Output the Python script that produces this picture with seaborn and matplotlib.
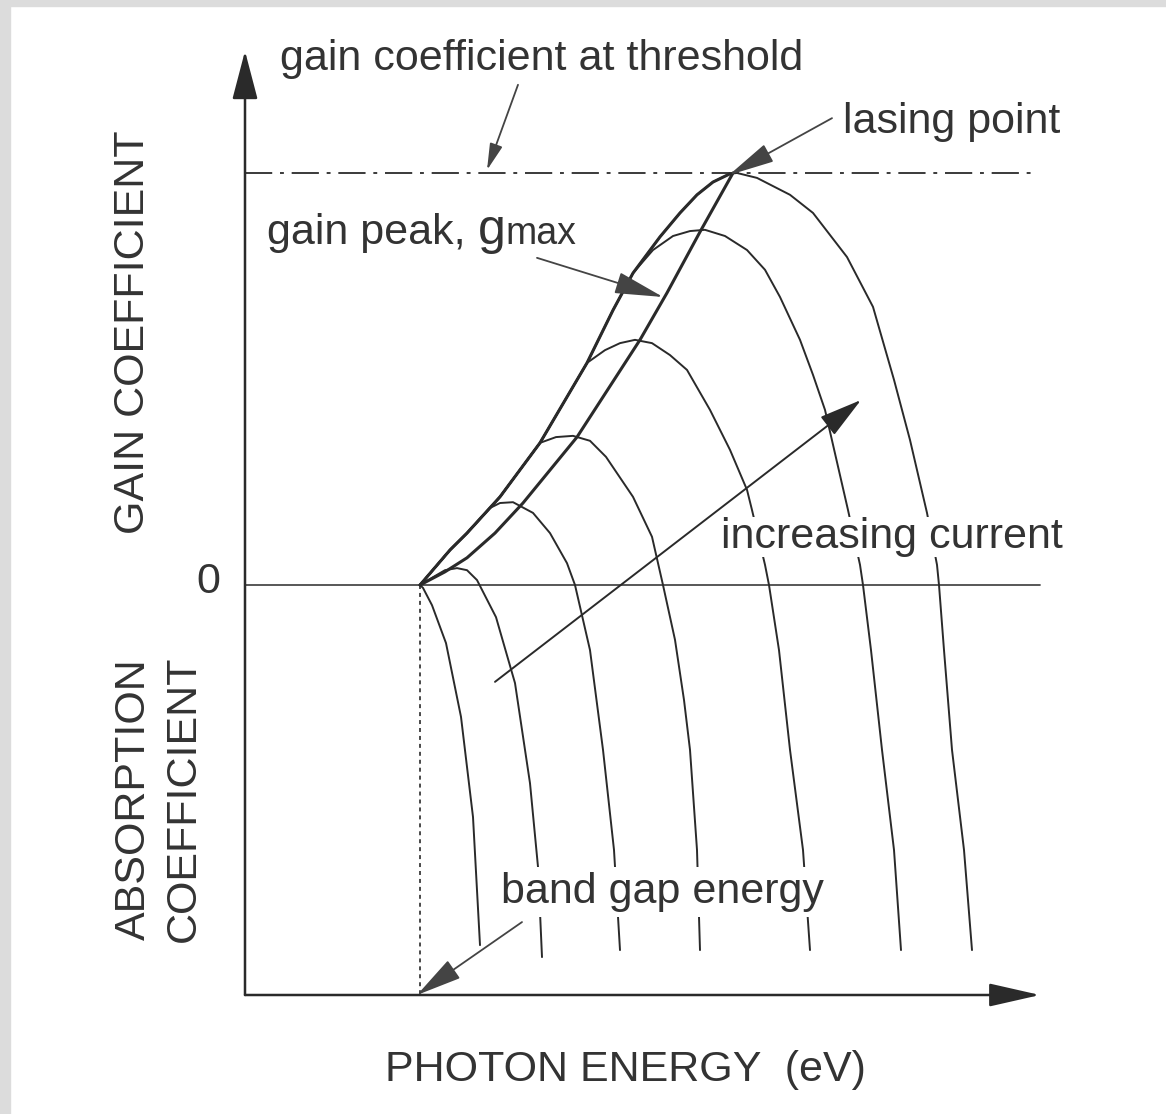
import matplotlib
matplotlib.use("Agg")
import matplotlib.pyplot as plt
import seaborn as sns
import pandas as pd

sns.set_theme(style="white")
plt.rcParams["font.family"] = ["Liberation Sans", "DejaVu Sans"]

INK = "#2a2a2a"
TXT = "#333333"
FS = 31

# photon energy (a.u.) and gain (a.u., threshold = 100)
E_GAP = 1.75
G_TH = 100.0

# rising (low-energy) edge shared by the gain spectra
edge_E = [1.75, 2.05, 2.22, 2.55, 2.95, 3.42, 3.68, 3.88, 4.15, 4.35, 4.52, 4.68, 4.85]
edge_g = [0.0, 8.5, 12.6, 21.4, 34.5, 53.9, 66.7, 75.7, 84.5, 90.3, 94.7, 97.8, 99.8]

# locus of the gain peaks
peak_E = [1.75, 2.00, 2.22, 2.50, 2.78, 3.32, 3.95, 4.22, 4.55, 4.88]
peak_g = [0.0, 3.2, 6.6, 12.6, 19.9, 35.9, 59.5, 70.9, 85.7, 100.0]

# spectra for increasing injection current: (branch energy on the edge, own points)
c1_E = [1.75, 1.78, 1.87, 2.01, 2.16, 2.28, 2.35]
c1_g = [0.0, -0.7, -4.9, -14.1, -32.0, -56.3, -87.4]

c2_E = [1.75, 1.88, 2.00, 2.12, 2.22, 2.32, 2.51, 2.70, 2.85, 2.93, 2.97]
c2_g = [0.0, 1.9, 3.6, 4.1, 3.6, 1.2, -7.8, -23.8, -48.1, -68.4, -90.3]

c3_branch = 2.22
c3_E = [2.45, 2.55, 2.68, 2.88, 3.05, 3.22, 3.30, 3.45, 3.58, 3.69, 3.75]
c3_g = [18.7, 19.9, 20.1, 17.5, 12.6, 5.3, 0.0, -15.8, -40.0, -64.3, -88.6]

c4_branch = 2.95
c4_E = [3.11, 3.28, 3.45, 3.61, 3.88, 4.07, 4.18, 4.30, 4.39, 4.45, 4.52, 4.55]
c4_g = [35.9, 36.2, 35.0, 31.1, 21.4, 11.7, 0.0, -13.3, -27.9, -40.0, -64.3, -88.6]

c5_branch = 3.42
c5_E = [3.60, 3.75, 3.90, 4.07, 4.25, 4.42, 4.65, 4.85, 5.02, 5.07, 5.20, 5.24,
        5.34, 5.45, 5.58, 5.65]
c5_g = [57.0, 58.7, 59.5, 58.7, 55.8, 52.2, 42.5, 32.8, 23.1, 18.2, 4.9, 0.0,
        -15.8, -40.0, -64.3, -88.6]

c6_branch = 3.88
c6_E = [4.08, 4.28, 4.45, 4.60, 4.80, 5.02, 5.20, 5.35, 5.55, 5.68, 5.80, 6.03,
        6.15, 6.18, 6.26, 6.37, 6.49, 6.56]
c6_g = [81.3, 84.7, 85.9, 86.2, 84.7, 81.3, 76.5, 69.9, 59.5, 51.0, 42.5, 18.2,
        4.9, 0.0, -15.8, -40.0, -64.3, -88.6]

c7_branch = 4.85
c7_E = [4.92, 5.12, 5.45, 5.68, 6.02, 6.28, 6.49, 6.65, 6.82, 6.92, 6.94, 6.99,
        7.07, 7.19, 7.27]
c7_g = [100.0, 98.8, 94.7, 90.3, 79.6, 67.5, 49.8, 35.2, 17.5, 4.9, 0.0, -15.8,
        -40.0, -64.3, -88.6]

X_MAX = 7.95
Y_MIN, Y_MAX = -99.5, 129.6


def on_edge(branch):
    pts = [(e, g) for e, g in zip(edge_E, edge_g) if e <= branch + 1e-9]
    return [p[0] for p in pts], [p[1] for p in pts]


spectra = []
spectra.append((c1_E, c1_g))
spectra.append((c2_E, c2_g))
for branch, E, g in [(c3_branch, c3_E, c3_g), (c4_branch, c4_E, c4_g),
                     (c5_branch, c5_E, c5_g), (c6_branch, c6_E, c6_g),
                     (c7_branch, c7_E, c7_g)]:
    be, bg = on_edge(branch)
    spectra.append((be + E, bg + g))

rows = []
for i, (E, g) in enumerate(spectra):
    for k, (e, v) in enumerate(zip(E, g)):
        rows.append({"curve": i, "order": k, "E": e, "g": v})
df = pd.DataFrame(rows)

fig = plt.figure(figsize=(11.66, 11.14), dpi=100)
fig.patch.set_facecolor("white")
ax = fig.add_axes([245 / 1166, 119 / 1114, 795 / 1166, 944 / 1114])
ax.set_xlim(0, X_MAX)
ax.set_ylim(Y_MIN, Y_MAX)
ax.axis("off")

# light frame strips at the top and left edges of the page
fig.patches.append(plt.Rectangle((0, 1 - 6 / 1114), 1, 6 / 1114, transform=fig.transFigure,
                                 color="#dcdcdc", zorder=0))
fig.patches.append(plt.Rectangle((0, 0), 10 / 1166, 1, transform=fig.transFigure,
                                 color="#dcdcdc", zorder=0))

# gain spectra
for i in range(len(spectra)):
    sns.lineplot(data=df[df.curve == i], x="E", y="g", sort=False, estimator=None,
                 color=INK, lw=1.4, ax=ax, legend=False, zorder=3)
for line in ax.lines:
    line.set_clip_on(False)
    line.set_solid_joinstyle("round")
    line.set_solid_capstyle("round")

# thick rising edge and gain-peak locus
ax.plot(edge_E, edge_g, color=INK, lw=2.2, zorder=4, solid_joinstyle="round")
ax.plot(peak_E, peak_g, color=INK, lw=2.2, zorder=4, solid_joinstyle="round")

# zero-gain line, threshold and band-gap marker
ax.plot([0, X_MAX], [0, 0], color="#4a4a4a", lw=1.3, zorder=2, clip_on=False)
ax.plot([0, 7.89], [G_TH, G_TH], color="#3a3a3a", lw=1.4, zorder=2,
        linestyle=(0, (14, 4, 2, 4)), clip_on=False)
ax.plot([E_GAP, E_GAP], [0, Y_MIN], color="#3a3a3a", lw=1.3, zorder=2,
        linestyle=(0, (2.2, 2.2)), clip_on=False)

# axes with arrowheads
ax.annotate("", xy=(0, Y_MAX), xytext=(0, Y_MIN), annotation_clip=False,
            arrowprops=dict(arrowstyle="-|>,head_length=0.84,head_width=0.22",
                            mutation_scale=36, lw=1.8, color=INK, shrinkA=0, shrinkB=0))
ax.annotate("", xy=(X_MAX, Y_MIN), xytext=(0, Y_MIN), annotation_clip=False,
            arrowprops=dict(arrowstyle="-|>,head_length=0.88,head_width=0.2",
                            mutation_scale=36, lw=1.8, color=INK, shrinkA=0, shrinkB=0))


def pointer(tail, tip, hl, hw, lw=1.3, color=INK):
    ax.annotate("", xy=tip, xytext=tail, annotation_clip=False, zorder=6,
                arrowprops=dict(arrowstyle=f"-|>,head_length={hl},head_width={hw}",
                                mutation_scale=36, lw=lw, color=color,
                                shrinkA=0, shrinkB=0))


# annotations
ax.text(0.35, 125.0, "gain coefficient at threshold", fontsize=FS, color=TXT,
        ha="left", va="baseline")
pointer((2.73, 121.4), (2.42, 100.7), 0.45, 0.11, color="#444444")

ax.text(5.98, 109.7, "lasing point", fontsize=FS, color=TXT, ha="left", va="baseline")
pointer((5.87, 113.3), (4.84, 99.5), 0.8, 0.17, color="#444444")

t1 = ax.text(0.22, 82.8, "gain peak, ", fontsize=FS, color=TXT, ha="left", va="baseline")
fig.canvas.draw()
w1 = t1.get_window_extent().width * 72 / fig.dpi
t2 = ax.annotate("g", xy=(0.22, 82.8), xytext=(w1, 0), textcoords="offset points",
                 fontsize=36, color=TXT, ha="left", va="baseline")
fig.canvas.draw()
w2 = t2.get_window_extent().width * 72 / fig.dpi
ax.annotate("max", xy=(0.22, 82.8), xytext=(w1 + w2, 0), textcoords="offset points",
            fontsize=27, color=TXT, ha="left", va="baseline")
pointer((2.92, 79.4), (4.18, 69.9), 0.85, 0.19, color="#444444")

ax.text(4.76, 9.0, "increasing current", fontsize=FS, color=TXT, ha="left",
        va="baseline", zorder=7,
        bbox=dict(boxstyle="square,pad=0.0", fc="white", ec="none"))
pointer((2.50, -23.5), (6.16, 44.9), 0.75, 0.2, lw=1.4)

ax.text(2.56, -77.2, "band gap energy", fontsize=FS, color=TXT, ha="left",
        va="baseline", zorder=7,
        bbox=dict(boxstyle="square,pad=0.12", fc="white", ec="none"))
pointer((2.77, -81.8), (1.72, -99.5), 0.8, 0.19, color="#444444")

ax.text(-0.37, 0.8, "0", fontsize=FS, color=TXT, ha="center", va="center")

# axis titles
fig.text(133.5 / 1166, 1 - 332 / 1114, "GAIN COEFFICIENT", fontsize=FS, color=TXT,
         rotation=90, ha="center", va="center")
fig.text(133.5 / 1166, 1 - 799 / 1114, "ABSORPTION", fontsize=FS, color=TXT,
         rotation=90, ha="center", va="center")
fig.text(183.5 / 1166, 1 - 799 / 1114, "COEFFICIENT", fontsize=FS, color=TXT,
         rotation=90, ha="center", va="center")
fig.text(625 / 1166, 1 - 1070 / 1114, "PHOTON ENERGY  (eV)", fontsize=FS, color=TXT,
         ha="center", va="center")

fig.savefig("out.png", dpi=100, facecolor="white")
